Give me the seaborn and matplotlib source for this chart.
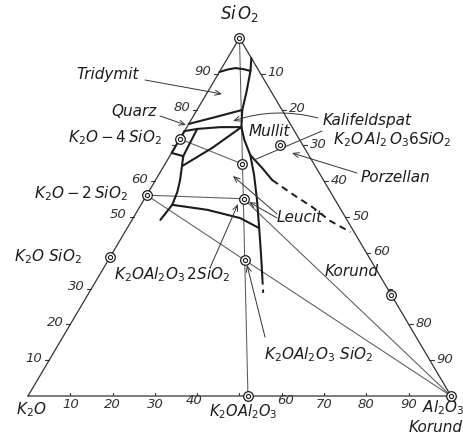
import matplotlib
matplotlib.use("Agg")
import matplotlib.pyplot as plt
import numpy as np
import pandas as pd
import seaborn as sns

W, H = 464, 434

# compounds, weight-% Al2O3 and SiO2 (rest is K2O)
COMPOUNDS = ["SiO2", "K2O4SiO2", "K2O2SiO2", "K2OSiO2", "Kalifeldspat",
             "Leucit", "Kaliophilit", "K2OAl2O3", "Al2O3", "Mullit", "Porzellan"]
COMP_AL = [0, 0, 0, 0, 18.3, 23.4, 32.2, 52.0, 100, 71.8, 24.6]
COMP_SI = [100, 71.8, 56.1, 38.9, 64.8, 55.1, 38.0, 0, 0, 28.2, 70.1]

# thin tie lines between compounds
JOINS = [("SiO2", "K2OAl2O3"), ("K2O4SiO2", "Kalifeldspat"),
         ("K2O2SiO2", "Leucit"), ("K2O2SiO2", "Kaliophilit"),
         ("Kaliophilit", "Al2O3"), ("Leucit", "Al2O3")]

# field boundaries (Al2O3 %, SiO2 %)
CRISTO_AL = [0, 1.6, 3.2, 5.3, 7.2]
CRISTO_SI = [90.5, 91.2, 91.6, 91.3, 90.8]
SILICA_AL = [5.6, 7.2, 9.2, 10.7, 12.9, 15.4, 18.9, 22.6, 26.8, 31.2, 35.4, 38.9]
SILICA_SI = [94.4, 90.8, 84.9, 79.9, 75.1, 71.5, 67.3, 61.7, 54.7, 46.9, 39.4, 33.0]
QUARZ_UP_AL = [0, 5.3, 10.7]
QUARZ_UP_SI = [76.0, 77.9, 79.9]
QUARZ_LOW_AL = [0, 2.7, 7.9, 12.9]
QUARZ_LOW_SI = [74.0, 74.6, 75.1, 75.1]
BOX_AL = [2.7, 3.2, 0, 0]
BOX_SI = [74.6, 67.0, 67.9, 74.0]
DISIL_AL = [3.2, 4.3, 5.8, 6.8, 7.4, 6.7]
DISIL_SI = [67.0, 64.2, 60.3, 57.0, 53.4, 49.2]
FELD_AL = [4.3, 8.9, 12.9]
FELD_SI = [64.2, 69.3, 75.1]
LEUC_AL = [7.4, 16.4, 25.3, 31.2]
LEUC_SI = [53.4, 52.0, 49.7, 46.9]
KOR_AL = [18.9, 23.5, 27.6]
KOR_SI = [67.3, 63.7, 60.3]
KOR_DASH_AL = [27.6, 35.2, 40.8, 47.0, 53.3]
KOR_DASH_SI = [60.3, 55.9, 52.8, 48.9, 45.8]
SILICA_DASH_AL = [38.9, 41.2]
SILICA_DASH_SI = [33.0, 28.8]

TICKS = [10, 20, 30, 40, 50, 60, 70, 80, 90]
LEFT_LABELS = [10, 20, 30, 50, 60, 80, 90]
RIGHT_LABELS = [10, 20, 30, 40, 50, 60, 80, 90]
BOTTOM_LABELS = [10, 20, 30, 40, 60, 70, 80, 90]


def to_xy(al, si):
    al = np.asarray(al, float) / 100
    si = np.asarray(si, float) / 100
    return al + si / 2, si


def curves_df(curves):
    rows = []
    for name, (al, si) in curves.items():
        x, y = to_xy(al, si)
        rows += [{"curve": name, "i": i, "X": a, "Y": b}
                 for i, (a, b) in enumerate(zip(x, y))]
    return pd.DataFrame(rows)


sns.set_theme(style="white", rc={"figure.facecolor": "white",
                                 "axes.facecolor": "white"})
plt.rcParams["font.family"] = ["DejaVu Sans"]
plt.rcParams["mathtext.fontset"] = "dejavusans"
plt.rcParams["mathtext.default"] = "it"

INK = "#1c1c1c"
THIN = "#5a5a5a"

fig = plt.figure(figsize=(W / 100, H / 100), dpi=100)
ax = fig.add_axes([28 / W, (H - 396) / H, 423 / W, 358 / H])
ax.set_xlim(0, 1)
ax.set_ylim(0, 1)
ax.axis("off")

comp = pd.DataFrame({"name": COMPOUNDS, "al": COMP_AL, "si": COMP_SI})
comp["X"], comp["Y"] = to_xy(comp["al"], comp["si"])
pos = comp.set_index("name")

# triangle frame
frame = curves_df({"frame": ([0, 100, 0, 0], [0, 0, 100, 0])})
sns.lineplot(data=frame, x="X", y="Y", units="curve", estimator=None,
             sort=False, color="#333", lw=0.9, ax=ax, clip_on=False)

# tie lines
join_rows = []
for k, (p, q) in enumerate(JOINS):
    for i, n in enumerate((p, q)):
        join_rows.append({"curve": k, "i": i, "X": pos.loc[n, "X"], "Y": pos.loc[n, "Y"]})
sns.lineplot(data=pd.DataFrame(join_rows), x="X", y="Y", units="curve",
             estimator=None, sort=False, color=THIN, lw=0.75, ax=ax, clip_on=False)

# boundaries
solid = curves_df({
    "cristo": (CRISTO_AL, CRISTO_SI), "silica": (SILICA_AL, SILICA_SI),
    "qup": (QUARZ_UP_AL, QUARZ_UP_SI), "qlow": (QUARZ_LOW_AL, QUARZ_LOW_SI),
    "box": (BOX_AL, BOX_SI), "disil": (DISIL_AL, DISIL_SI),
    "feld": (FELD_AL, FELD_SI), "leuc": (LEUC_AL, LEUC_SI),
    "kor": (KOR_AL, KOR_SI),
})
sns.lineplot(data=solid, x="X", y="Y", units="curve", estimator=None,
             sort=False, color=INK, lw=1.5, ax=ax, clip_on=False)
dashed = curves_df({"kd": (KOR_DASH_AL, KOR_DASH_SI),
                    "sd": (SILICA_DASH_AL, SILICA_DASH_SI)})
for _, g in dashed.groupby("curve"):
    ax.plot(g["X"], g["Y"], color=INK, lw=1.4, dashes=(3.5, 2.5))

# ticks
t = np.array(TICKS, float)
dx, dy = 4 / 423, 3 / 358
lx, ly = to_xy(np.zeros_like(t), t)
rx, ry = to_xy(t, 100 - t)
bx, by = to_xy(t, np.zeros_like(t))
for i in range(len(t)):
    ax.plot([lx[i] - dx, lx[i]], [ly[i], ly[i]], color="#333", lw=0.8)
    ax.plot([rx[i], rx[i] + dx], [ry[i], ry[i]], color="#333", lw=0.8)
    ax.plot([bx[i], bx[i]], [by[i], by[i] + dy], color="#333", lw=0.8)

tick_kw = dict(textcoords="offset pixels", fontsize=9.5, fontstyle="italic",
               color="#333", va="center")
for v in LEFT_LABELS:
    x, y = to_xy(0, v)
    ax.annotate(f"{v}", (x, y), xytext=(-7, 2), ha="right", **tick_kw)
for v in RIGHT_LABELS:
    x, y = to_xy(v, 100 - v)
    ax.annotate(f"{v}", (x, y), xytext=(7, 1), ha="left", **tick_kw)
for v in BOTTOM_LABELS:
    x, y = to_xy(v, 0)
    # the two labels beside K2O.Al2O3 sit a little higher and apart
    off = {40: (-3, -5), 60: (4, -5)}.get(v, (0, -8))
    ax.annotate(f"{v}", (x, y), xytext=off, ha="center", **tick_kw)

# compound markers
sns.scatterplot(data=comp, x="X", y="Y", s=48, color="white", edgecolor=INK,
                linewidth=0.9, zorder=5, clip_on=False, ax=ax, legend=False)
sns.scatterplot(data=comp, x="X", y="Y", s=9, color="white", edgecolor=INK,
                linewidth=0.8, zorder=6, clip_on=False, ax=ax, legend=False)


def label(txt, x, y, size=11, ha="center"):
    ax.annotate(txt, (x, H - y), xycoords="figure pixels", ha=ha, va="center",
                fontsize=size, fontstyle="italic", color=INK)


def leader(x0, y0, x1, y1, arrow=True, rad=0.0):
    style = "->,head_length=0.35,head_width=0.15" if arrow else "-"
    ax.annotate("", (x1, H - y1), xytext=(x0, H - y0), xycoords="figure pixels",
                textcoords="figure pixels",
                arrowprops=dict(arrowstyle=style, lw=0.7, color="#333",
                                shrinkA=0, shrinkB=0,
                                connectionstyle=f"arc3,rad={rad}"))


label(r"$Si\,O_2$", 240, 14, 12)
label("Tridymit", 108, 74)
label("Quarz", 157, 112, ha="right")
label(r"$K_2O - 4\,SiO_2$", 162, 138, ha="right")
label(r"$K_2O - 2\,SiO_2$", 128, 194, ha="right")
label(r"$K_2O\ SiO_2$", 82, 257, ha="right")
label(r"$K_2OAl_2O_3\,2SiO_2$", 172, 275)
label("Mullit", 269, 131)
label("Kalifeldspat", 367, 121)
label(r"$K_2O\,Al_2\,O_3 6SiO_2$", 392, 140)
label("Porzellan", 395, 177)
label("Leucit", 300, 218)
label("Korund", 352, 271)
label(r"$K_2OAl_2O_3\ SiO_2$", 318, 355)
label(r"$K_2O$", 31, 410)
label(r"$K_2OAl_2O_3$", 243, 412, 10.5)
label(r"$Al_2O_3$", 443, 408)
label("Korund", 436, 427)

leader(145, 80, 222, 94)
leader(160, 116, 186, 125)
leader(318, 118, 233, 121, rad=0.15)
leader(322, 131, 254, 160, arrow=False)
leader(357, 173, 292, 153)
leader(277, 214, 233, 176)
leader(277, 218, 249, 202)
leader(210, 268, 238, 204)
leader(265, 337, 247, 265)

fig.savefig("out.png", dpi=100, facecolor="white")
